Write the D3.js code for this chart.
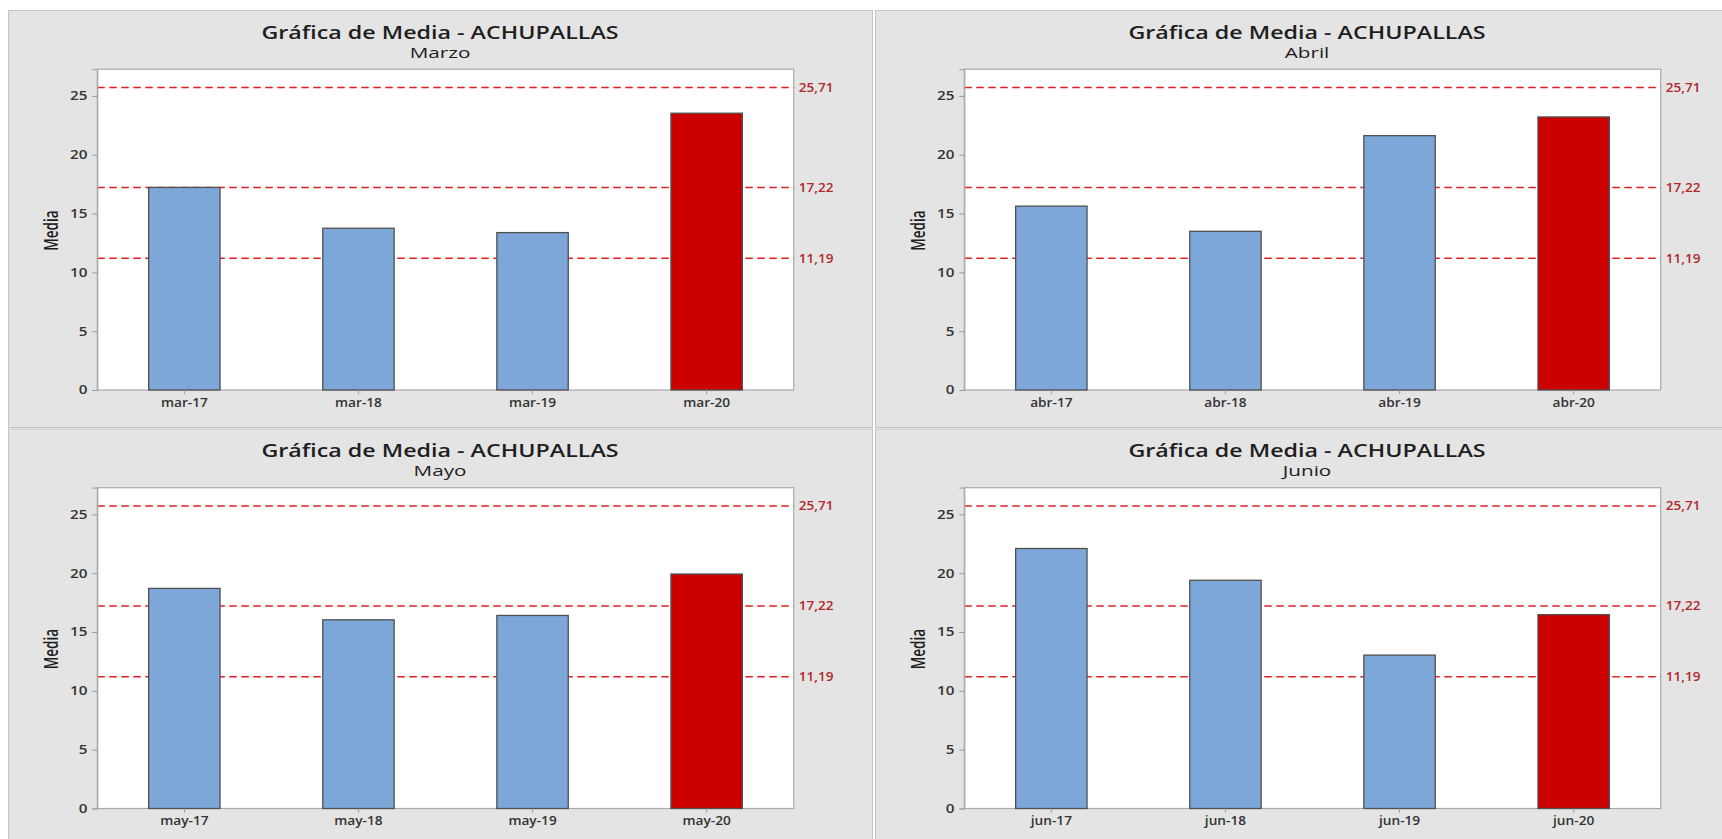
<!DOCTYPE html>
<html>
<head>
<meta charset="utf-8">
<script src="https://cdn.jsdelivr.net/npm/d3@7"></script>
<style>
  html, body { margin: 0; padding: 0; background: #ffffff; overflow: hidden; }
  svg { display: block; }
</style>
</head>
<body>
<svg id="chart" width="1722" height="839"></svg>
<script>
// ---- data ----
const mainTitle = "Gráfica de Media - ACHUPALLAS";
const subtitles = ["Marzo", "Abril", "Mayo", "Junio"];
const catsMarzo = ["mar-17", "mar-18", "mar-19", "mar-20"];
const catsAbril = ["abr-17", "abr-18", "abr-19", "abr-20"];
const catsMayo  = ["may-17", "may-18", "may-19", "may-20"];
const catsJunio = ["jun-17", "jun-18", "jun-19", "jun-20"];
const valsMarzo = [17.22, 13.75, 13.38, 23.53];
const valsAbril = [15.63, 13.49, 21.62, 23.21];
const valsMayo  = [18.71, 16.04, 16.41, 19.93];
const valsJunio = [22.10, 19.40, 13.04, 16.48];
const refValues = [25.71, 17.22, 11.19];
const refLabels = ["25,71", "17,22", "11,19"];
const yTickValues = [0, 5, 10, 15, 20, 25];
const yAxisLabel = "Media";
const highlightIndex = 3;

// ---- layout ----
const panelW = 864, panelH = 417;
const panels = [
  { x: 8,   y: 10,    cats: catsMarzo, vals: valsMarzo, sub: subtitles[0] },
  { x: 875, y: 10,    cats: catsAbril, vals: valsAbril, sub: subtitles[1] },
  { x: 8,   y: 428.5, cats: catsMayo,  vals: valsMayo,  sub: subtitles[2] },
  { x: 875, y: 428.5, cats: catsJunio, vals: valsJunio, sub: subtitles[3] }
];
const plot = { left: 89.3, right: 785.7, top: 59.2, bottom: 380 };

const svg = d3.select("#chart");
const FONT = "'Open Sans', 'Noto Sans', sans-serif";

function stretchedText(g, x, y, k, str) {
  return g.append("text")
    .attr("transform", `translate(${x},${y}) scale(${k},1)`)
    .attr("font-family", FONT)
    .text(str);
}

panels.forEach(p => {
  const g = svg.append("g").attr("transform", `translate(${p.x},${p.y})`);

  g.append("rect")
    .attr("x", 0.5).attr("y", 0.5)
    .attr("width", panelW).attr("height", panelH)
    .attr("fill", "#e4e4e4").attr("stroke", "#c4c4c4").attr("stroke-width", 1);

  const x = d3.scaleBand().domain(p.cats)
    .range([plot.left, plot.right])
    .paddingInner(0.59).paddingOuter(0.295);
  const y = d3.scaleLinear().domain([0, 27.27]).range([plot.bottom, plot.top]);

  // plot area
  g.append("rect")
    .attr("x", plot.left).attr("y", plot.top)
    .attr("width", plot.right - plot.left).attr("height", plot.bottom - plot.top)
    .attr("fill", "#ffffff").attr("stroke", "#aaaaaa").attr("stroke-width", 1.2);

  // titles
  stretchedText(g, panelW / 2, 28.5, 1.33, mainTitle)
    .attr("text-anchor", "middle")
    .attr("font-size", 17.5).attr("font-weight", 600)
    .attr("fill", "#1e1e1e");
  stretchedText(g, panelW / 2, 47.5, 1.38, p.sub)
    .attr("text-anchor", "middle")
    .attr("font-size", 15).attr("font-weight", 500)
    .attr("fill", "#1e1e1e");

  // reference lines (behind bars)
  refValues.forEach((v, i) => {
    g.append("line")
      .attr("x1", plot.left).attr("x2", plot.right)
      .attr("y1", y(v)).attr("y2", y(v))
      .attr("stroke", "#e02020").attr("stroke-width", 1.5)
      .attr("stroke-dasharray", "7.5,4.5");
    stretchedText(g, plot.right + 5, y(v) + 4.2, 1.15, refLabels[i])
      .attr("font-size", 11.8).attr("font-weight", 600)
      .attr("fill", "#b0292c");
  });

  // bars
  g.selectAll("rect.bar").data(p.vals).enter().append("rect")
    .attr("class", "bar")
    .attr("x", (d, i) => x(p.cats[i]))
    .attr("y", d => y(d))
    .attr("width", x.bandwidth())
    .attr("height", d => y(0) - y(d))
    .attr("fill", (d, i) => i === highlightIndex ? "#cc0000" : "#7da7d9")
    .attr("stroke", "#505050").attr("stroke-width", 1.3);

  // y axis
  const yAxis = d3.axisLeft(y).tickValues(yTickValues).tickSize(5).tickPadding(2.8).tickFormat(d3.format("d"));
  const ya = g.append("g").attr("transform", `translate(${plot.left},0)`).call(yAxis);
  ya.select(".domain").attr("stroke", "#aaaaaa").attr("stroke-width", 1.2);
  ya.selectAll(".tick line").attr("stroke", "#999");
  ya.selectAll(".tick text").attr("font-family", FONT).attr("font-size", 12)
    .attr("font-weight", 600).attr("fill", "#333")
    .attr("transform", "scale(1.27,1)");

  // x axis
  const xAxis = d3.axisBottom(x).tickSize(4).tickPadding(4.5);
  const xa = g.append("g").attr("transform", `translate(0,${plot.bottom})`).call(xAxis);
  xa.select(".domain").remove();
  xa.selectAll(".tick line").attr("stroke", "#999");
  xa.selectAll(".tick text").attr("font-family", FONT).attr("font-size", 11.6)
    .attr("font-weight", 600).attr("fill", "#333")
    .attr("transform", "scale(1.18,1)");

  // y label
  g.append("text")
    .attr("transform", `translate(${42.8},${(plot.top + plot.bottom) / 2 + 1}) scale(1.4,1) rotate(-90)`)
    .attr("text-anchor", "middle").attr("dy", "0.36em")
    .attr("font-family", FONT)
    .attr("font-size", 13.5).attr("font-weight", 600)
    .attr("fill", "#1e1e1e").text(yAxisLabel);
});
</script>
</body>
</html>
